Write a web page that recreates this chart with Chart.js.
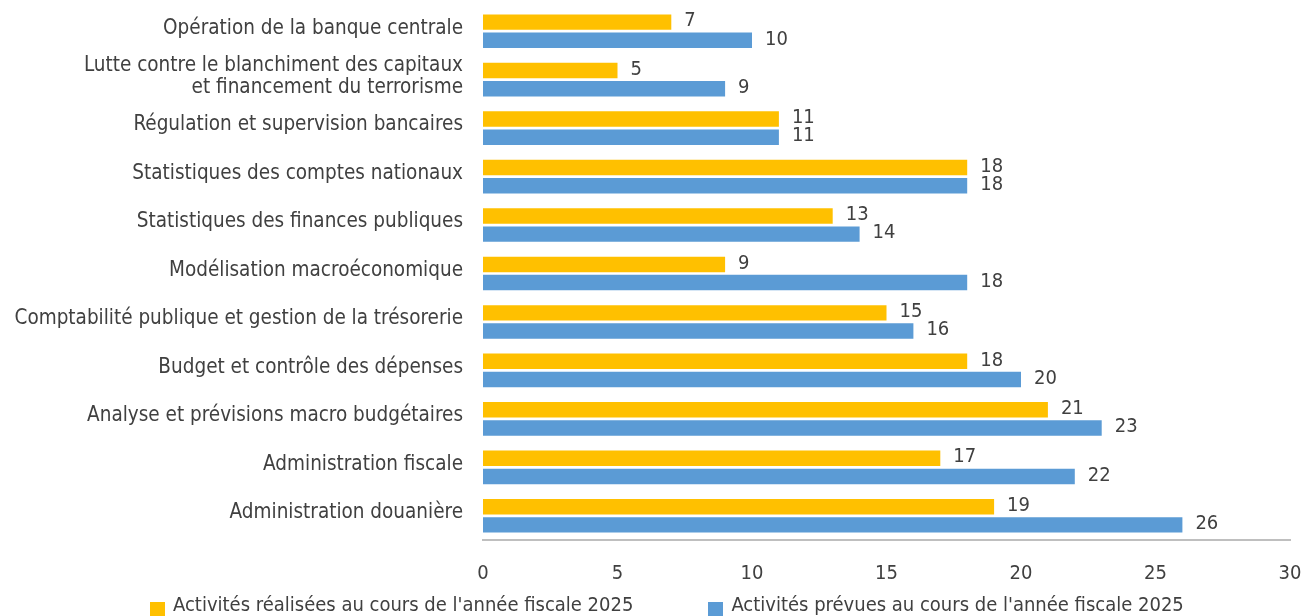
<!DOCTYPE html>
<html>
<head>
<meta charset="utf-8">
<script src="https://cdn.jsdelivr.net/npm/chart.js@4.4.1/dist/chart.umd.min.js"></script>
<style>
  html, body { margin: 0; padding: 0; background: #fff; }
  #wrap { position: relative; width: 1307px; height: 616px; overflow: hidden; }
  #legend { position: absolute; top: 590px; left: 150px; display: flex; gap: 75px;
    font-family: "DejaVu Sans Condensed", sans-serif; font-size: 20px; color: #404040; }
  .item { display: flex; align-items: center; white-space: nowrap; }
  .box { width: 15px; height: 15px; margin-right: 8px; margin-top: 12px; }
</style>
</head>
<body>
<div id="wrap">
  <canvas id="myChart" width="1307" height="616"></canvas>
  <div id="legend"></div>
</div>
<script>
const categories = [
    'Opération de la banque centrale',
    ['Lutte contre le blanchiment des capitaux', 'et financement du terrorisme'],
    'Régulation et supervision bancaires',
    'Statistiques des comptes nationaux',
    'Statistiques des finances publiques',
    'Modélisation macroéconomique',
    'Comptabilité publique et gestion de la trésorerie',
    'Budget et contrôle des dépenses',
    'Analyse et prévisions macro budgétaires',
    'Administration fiscale',
    'Administration douanière'
];
const realisees = [7, 5, 11, 18, 13, 9, 15, 18, 21, 17, 19];
const prevues = [10, 9, 11, 18, 14, 18, 16, 20, 23, 22, 26];
const xTicks = [0, 5, 10, 15, 20, 25, 30];

const seriesNames = [
    "Activités réalisées au cours de l'année fiscale 2025",
    "Activités prévues au cours de l'année fiscale 2025"
];
const colors = ['#FFC000', '#5B9BD5'];

const fontFamily = '"DejaVu Sans Condensed", sans-serif';
const textColor = '#404040';

// value labels at the end of each bar
const barLabels = {
    id: 'barLabels',
    afterDatasetsDraw(chart) {
        const ctx = chart.ctx;
        ctx.save();
        ctx.font = '20px ' + fontFamily;
        ctx.fillStyle = textColor;
        ctx.textBaseline = 'middle';
        ctx.textAlign = 'left';
        chart.data.datasets.forEach((ds, i) => {
            chart.getDatasetMeta(i).data.forEach((bar, j) => {
                ctx.fillText(ds.data[j], bar.x + 13, bar.y - 1);
            });
        });
        ctx.restore();
    }
};

const ctx = document.getElementById('myChart').getContext('2d');
const myChart = new Chart(ctx, {
    type: 'bar',
    data: {
        labels: categories,
        datasets: [{
            label: seriesNames[0],
            data: realisees,
            backgroundColor: colors[0]
        }, {
            label: seriesNames[1],
            data: prevues,
            backgroundColor: colors[1]
        }]
    },
    options: {
        indexAxis: 'y',
        responsive: false,
        animation: false,
        categoryPercentage: 0.75,
        barPercentage: 0.85,
        layout: { padding: { top: 7, right: 17, left: 0, bottom: 0 } },
        plugins: {
            legend: { display: false },
            tooltip: { enabled: false }
        },
        scales: {
            x: {
                min: 0,
                max: 30,
                afterBuildTicks(scale) {
                    scale.ticks = xTicks.map(v => ({ value: v }));
                },
                afterFit(scale) {
                    scale.height = 76;
                    scale.paddingLeft = 0;
                    scale.paddingRight = 0;
                },
                grid: { display: false, drawTicks: false },
                border: { display: true, color: '#bfbfbf', width: 2 },
                ticks: {
                    padding: 22,
                    color: textColor,
                    font: { family: fontFamily, size: 20 }
                }
            },
            y: {
                afterFit(scale) {
                    scale.width = 483;
                    scale.paddingTop = 0;
                    scale.paddingBottom = 0;
                },
                grid: { display: false, drawTicks: false },
                border: { display: false },
                ticks: {
                    autoSkip: false,
                    padding: 20,
                    labelOffset: -3,
                    color: textColor,
                    font: { family: fontFamily, size: 20.5, lineHeight: 1.12 }
                }
            }
        }
    },
    plugins: [barLabels]
});

// legend below the chart
const legendEl = document.getElementById('legend');
myChart.data.datasets.forEach(ds => {
    const item = document.createElement('div');
    item.className = 'item';
    const box = document.createElement('span');
    box.className = 'box';
    box.style.background = ds.backgroundColor;
    const txt = document.createElement('span');
    txt.textContent = ds.label;
    item.appendChild(box);
    item.appendChild(txt);
    legendEl.appendChild(item);
});
</script>
</body>
</html>
